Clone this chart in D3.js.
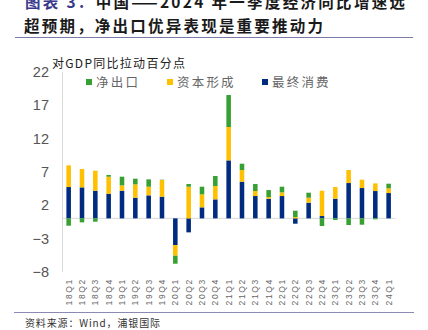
<!DOCTYPE html>
<html><head><meta charset="utf-8">
<script src="https://cdn.jsdelivr.net/npm/d3@7"></script>
<style>
html,body{margin:0;padding:0;background:#fff;}
svg{display:block;}
</style></head>
<body>
<svg id="c" width="428" height="330"></svg>
<script>
const quarters = ["18Q1","18Q2","18Q3","18Q4","19Q1","19Q2","19Q3","19Q4","20Q1","20Q2","20Q3","20Q4","21Q1","21Q2","21Q3","21Q4","22Q1","22Q2","22Q3","22Q4","23Q1","23Q2","23Q3","23Q4","24Q1"];
const consumption = [4.7,4.65,4.15,3.7,4.15,3.1,3.45,3.25,-4.0,-2.1,1.65,2.85,8.7,5.5,3.35,2.95,3.35,-0.8,2.35,0.35,2.95,5.3,4.55,4.1,3.8];
const capital     = [3.25,2.75,3.0,2.55,0.8,2.0,1.3,2.5,-1.6,4.75,1.95,2.0,5.0,1.75,0.75,0.25,0.55,0.2,0.75,3.8,1.75,1.95,1.25,1.15,0.7];
const netExport   = [-1.1,-0.6,-0.5,0.25,1.3,0.85,1.1,0.05,-1.2,0.4,1.15,1.5,4.8,0.95,1.05,1.05,0.85,0.95,0.75,-1.15,-0.25,-1.0,-0.95,-0.15,0.7];
const yTicks = [-8,-3,2,7,12,17,22];
const seriesNames = ["净出口","资本形成","最终消费"];
const title1a = "图表 3：";
const title1b = "中国——2024 年一季度经济同比增速远";
const title2 = "超预期，净出口优异表现是重要推动力";
const yLabel = "对GDP同比拉动百分点";
const source = "资料来源：Wind，浦银国际";

const colors = {consumption:"#012B7E", capital:"#FFC000", netExport:"#37A033"};
const cjk = "'Noto Sans CJK SC','Noto Sans',sans-serif";
const svg = d3.select("#c");

const rows = quarters.map((q,i)=>({q, consumption:consumption[i], capital:capital[i], netExport:netExport[i]}));
const keys = ["consumption","capital","netExport"];
const stacked = d3.stack().keys(keys).offset(d3.stackOffsetDiverging)(rows);

const x = d3.scaleBand().domain(quarters).range([62,395.3]).paddingInner(0.66).paddingOuter(0.33);
const y = d3.scaleLinear().domain([-8,22]).range([271.7,71.7]);

// title
const t1 = svg.append("text").attr("x",25).attr("y",8).attr("font-family",cjk).attr("font-weight","bold").attr("font-size",15.5);
t1.append("tspan").attr("fill","#3a3a8c").text(title1a);
t1.append("tspan").attr("fill","#1a1a1a").text(title1b);
t1.attr("textLength",380).attr("lengthAdjust","spacing");
svg.append("text").attr("x",24).attr("y",32).attr("font-family",cjk).attr("font-weight","bold").attr("font-size",15.5)
  .attr("fill","#1a1a1a").attr("textLength",299).attr("lengthAdjust","spacing").text(title2);
svg.append("line").attr("x1",15).attr("x2",413).attr("y1",37.5).attr("y2",37.5).attr("stroke","#7b7ba8").attr("stroke-width",1.2);

// y label
svg.append("text").attr("x",52).attr("y",68).attr("font-family",cjk).attr("font-size",12).attr("fill","#222")
  .attr("textLength",133).attr("lengthAdjust","spacing").text(yLabel);

// legend
const legendX = [86,167,262];
const legendKeys = ["netExport","capital","consumption"];
legendKeys.forEach((k,i)=>{
  svg.append("rect").attr("x",legendX[i]).attr("y",79).attr("width",6).attr("height",6).attr("fill",colors[k]);
  svg.append("text").attr("x",legendX[i]+10).attr("y",86.5).attr("font-family",cjk).attr("font-size",12.5)
    .attr("fill","#666").attr("letter-spacing",2.2).text(seriesNames[i]);
});

// y axis
const ya = svg.append("g").attr("transform","translate(62,0)")
  .call(d3.axisLeft(y).tickValues(yTicks).tickSize(0).tickSizeOuter(0).tickPadding(13));
ya.select(".domain").attr("stroke","#d9d9d9");
ya.selectAll("text").attr("font-family","'Liberation Sans',Arial,sans-serif").attr("font-size",14.5).attr("fill","#555");

// zero line
svg.append("line").attr("x1",62).attr("x2",395.3).attr("y1",y(0)).attr("y2",y(0)).attr("stroke","#d9d9d9").attr("stroke-width",1);

// bars
svg.append("g").selectAll("g").data(stacked).join("g").attr("fill",d=>colors[d.key])
  .selectAll("rect").data(d=>d).join("rect")
  .attr("x",d=>x(d.data.q)).attr("width",x.bandwidth())
  .attr("y",d=>y(Math.max(d[0],d[1]))).attr("height",d=>Math.abs(y(d[0])-y(d[1])));

// x axis labels
const xa = svg.append("g").attr("transform",`translate(0,${y(-8)})`).call(d3.axisBottom(x).tickSize(0));
xa.select(".domain").remove();
xa.selectAll("text").attr("transform","rotate(-90)").attr("text-anchor","end")
  .attr("x",-6.5).attr("y",0).attr("dy","0.35em")
  .attr("font-family","'Liberation Sans',Arial,sans-serif").attr("font-size",8.5).attr("letter-spacing",1.6).attr("fill","#666");

// bottom line & source
svg.append("line").attr("x1",14).attr("x2",414).attr("y1",312.5).attr("y2",312.5).attr("stroke","#8a8ab5").attr("stroke-width",1.2);
svg.append("text").attr("x",25).attr("y",327).attr("font-family",cjk).attr("font-size",10).attr("fill","#333")
  .attr("textLength",135).attr("lengthAdjust","spacing").text(source);
</script>
</body></html>
